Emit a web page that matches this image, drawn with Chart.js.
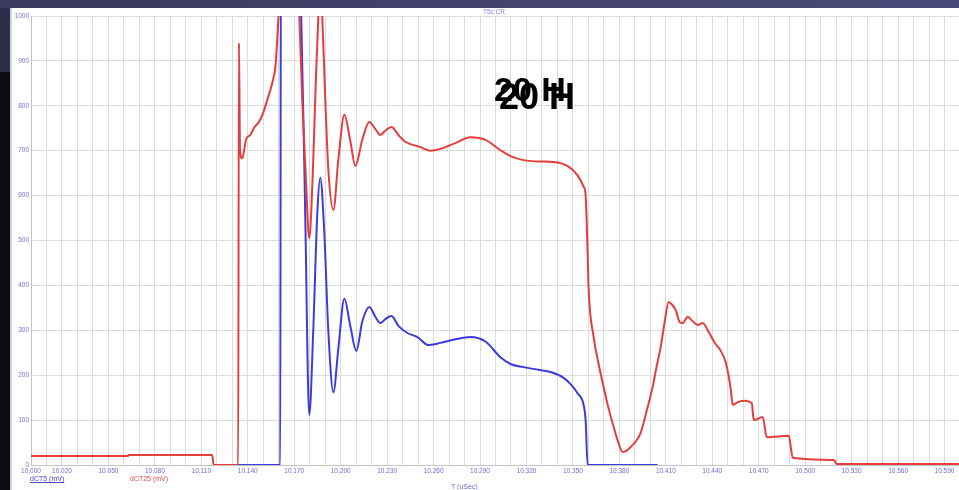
<!DOCTYPE html>
<html>
<head>
<meta charset="utf-8">
<script src="https://cdn.jsdelivr.net/npm/chart.js@4/dist/chart.umd.min.js"></script>
<style>
  html, body { margin: 0; padding: 0; }
  body { width: 959px; height: 490px; overflow: hidden; position: relative; background: #0c0c12; font-family: "Liberation Sans", Arial, sans-serif; }
  #band { position: absolute; left: 0; top: 0; width: 959px; height: 8px; background: linear-gradient(90deg, #3a3a5e, #4a4a78); }
  #corner { position: absolute; left: 0; top: 8px; width: 10px; height: 64px; background: #2e2e4a; }
  #panel { position: absolute; left: 10px; top: 8px; width: 949px; height: 482px; background: #fff; overflow: hidden; }
  #panel canvas { position: absolute; left: 0; top: 0; }
  #edge { position: absolute; left: 10px; top: 8px; width: 2px; height: 482px; background: #d2d2d8; }
  .t { position: absolute; white-space: nowrap; line-height: 1; }
  .big { font-weight: bold; color: #000; font-family: "Liberation Sans", Arial, sans-serif; }
</style>
</head>
<body>
<div id="band"></div>
<div id="corner"></div>
<div id="panel"><canvas id="c" width="952" height="482"></canvas></div>
<div id="edge"></div>
<div class="t" style="left:483px;top:9px;font-size:6.5px;color:#8484ea;">T5c:CR</div>
<div class="t big" style="left:494px;top:72px;font-size:34px;">20 H</div>
<div class="t big" style="left:499px;top:79px;font-size:36px;">20 H</div>
<div class="t" style="left:30px;top:475px;font-size:7px;color:#4646cc;text-decoration:underline;">dCT5 (mV)</div>
<div class="t" style="left:130px;top:475px;font-size:7px;color:#e04848;">dCT25 (mV)</div>
<div class="t" style="left:451px;top:483px;font-size:7px;color:#6a6ad8;">T (uSec)</div>
<script>
// Time base (uSec) and channel readings (mV)
const redT = [10.0000, 10.0627, 10.0630, 10.1170, 10.1180, 10.1338, 10.1343, 10.1350, 10.1364, 10.1390,
  10.1416, 10.1442, 10.1474, 10.1500, 10.1526, 10.1558, 10.1578, 10.1591, 10.1600, 10.1650,
  10.1700, 10.1733, 10.1752, 10.1775, 10.1797, 10.1820, 10.1840, 10.1856, 10.1868, 10.1881,
  10.1900, 10.1920, 10.1953, 10.1985, 10.2024, 10.2062, 10.2095, 10.2140, 10.2185, 10.2224,
  10.2256, 10.2289, 10.2328, 10.2373, 10.2418, 10.2515, 10.2580, 10.2644, 10.2741, 10.2838,
  10.2935, 10.3032, 10.3097, 10.3181, 10.3278, 10.3375, 10.3465, 10.3530, 10.3569, 10.3582,
  10.3595, 10.3601, 10.3634, 10.3666, 10.3698, 10.3731, 10.3763, 10.3789, 10.3821, 10.3847,
  10.3873, 10.3905, 10.3937, 10.3976, 10.4015, 10.4041, 10.4067, 10.4093, 10.4118, 10.4138,
  10.4164, 10.4190, 10.4209, 10.4241, 10.4274, 10.4306, 10.4338, 10.4377, 10.4422, 10.4442,
  10.4487, 10.4519, 10.4532, 10.4565, 10.4610, 10.4655, 10.4668, 10.4726, 10.4752, 10.4894,
  10.4920, 10.5185, 10.5205, 10.6000];
const redV = [20, 20, 22, 22, 0, 0, 940, 700, 683, 726,
  735, 752, 765, 785, 813, 851, 886, 950, 1010, 1250,
  1250, 1000, 813, 640, 505, 650, 860, 1000, 1080, 1000,
  820, 660, 568, 680, 780, 722, 666, 725, 764, 748,
  735, 745, 753, 735, 720, 708, 700, 704, 717, 730,
  724, 701, 688, 679, 676, 675, 666, 645, 620, 601,
  472, 396, 285, 225, 174, 125, 85, 55, 29, 32,
  40, 52, 71, 120, 174, 220, 263, 320, 363, 358,
  345, 318, 316, 330, 320, 312, 316, 296, 269, 261,
  229, 170, 134, 140, 143, 138, 100, 107, 62, 65,
  16, 11, 2, 2];

const blueT = [10.1338, 10.1610, 10.1614, 10.1700, 10.1745, 10.1771, 10.1797, 10.1823, 10.1849, 10.1868,
  10.1894, 10.1920, 10.1953, 10.1985, 10.2024, 10.2062, 10.2101, 10.2140, 10.2185, 10.2224,
  10.2256, 10.2289, 10.2328, 10.2373, 10.2431, 10.2496, 10.2567, 10.2644, 10.2741, 10.2838,
  10.2935, 10.3032, 10.3097, 10.3181, 10.3278, 10.3356, 10.3440, 10.3485, 10.3530, 10.3569,
  10.3582, 10.3595, 10.4047];
const blueV = [0, 0, 1250, 1250, 1000, 560, 111, 300, 560, 640,
  520, 300, 162, 260, 370, 310, 254, 320, 352, 330,
  316, 325, 332, 310, 294, 285, 267, 272, 280, 285,
  275, 240, 225, 218, 212, 207, 194, 180, 160, 134,
  100, 0, 0];

const xTickLabels = ['10.000', '10.020', '10.050', '10.080', '10.110', '10.140', '10.170', '10.200',
  '10.230', '10.260', '10.290', '10.320', '10.350', '10.380', '10.410', '10.440', '10.470',
  '10.500', '10.530', '10.560', '10.590'];
const yTickValues = [0, 100, 200, 300, 400, 500, 600, 700, 800, 900, 1000];

const toPoints = (ts, vs) => ts.map((t, i) => ({ x: t, y: vs[i] }));

const tickFont = { family: '"Liberation Sans", Arial, sans-serif', size: 6.5 };

new Chart(document.getElementById('c'), {
  type: 'line',
  data: {
    datasets: [
      { label: 'dCT25 (mV)', data: toPoints(redT, redV), borderColor: '#e63c3c', order: 0 },
      { label: 'dCT5 (mV)', data: toPoints(blueT, blueV), borderColor: '#3c3cdc', order: 1 }
    ]
  },
  options: {
    responsive: false,
    animation: false,
    devicePixelRatio: 1,
    layout: { padding: { top: 8, left: 0, right: 0, bottom: 0 } },
    plugins: { legend: { display: false }, tooltip: { enabled: false } },
    elements: {
      point: { radius: 0 },
      line: { borderWidth: 2, cubicInterpolationMode: 'monotone', fill: false }
    },
    scales: {
      x: {
        type: 'linear', min: 10, max: 10.6,
        ticks: {
          stepSize: 0.01, autoSkip: false, maxRotation: 0, minRotation: 0,
          padding: 2, color: '#6c6cdc', font: tickFont,
          callback: (v) => { const s = Number(v).toFixed(3); return xTickLabels.includes(s) ? s : ''; }
        },
        grid: { color: '#dcdcdc', lineWidth: 1, drawTicks: false },
        border: { color: '#c4c4c4' },
        afterFit: (s) => { s.height = 25; }
      },
      y: {
        min: 0, max: 1000,
        afterBuildTicks: (s) => { s.ticks = yTickValues.map(v => ({ value: v })); },
        ticks: { padding: 2, color: '#7474e0', font: tickFont, callback: (v) => String(v) },
        grid: { color: '#dcdcdc', lineWidth: 1, drawTicks: false },
        border: { color: '#c4c4c4' },
        afterFit: (s) => { s.width = 21; }
      }
    }
  }
});
</script>
</body>
</html>
